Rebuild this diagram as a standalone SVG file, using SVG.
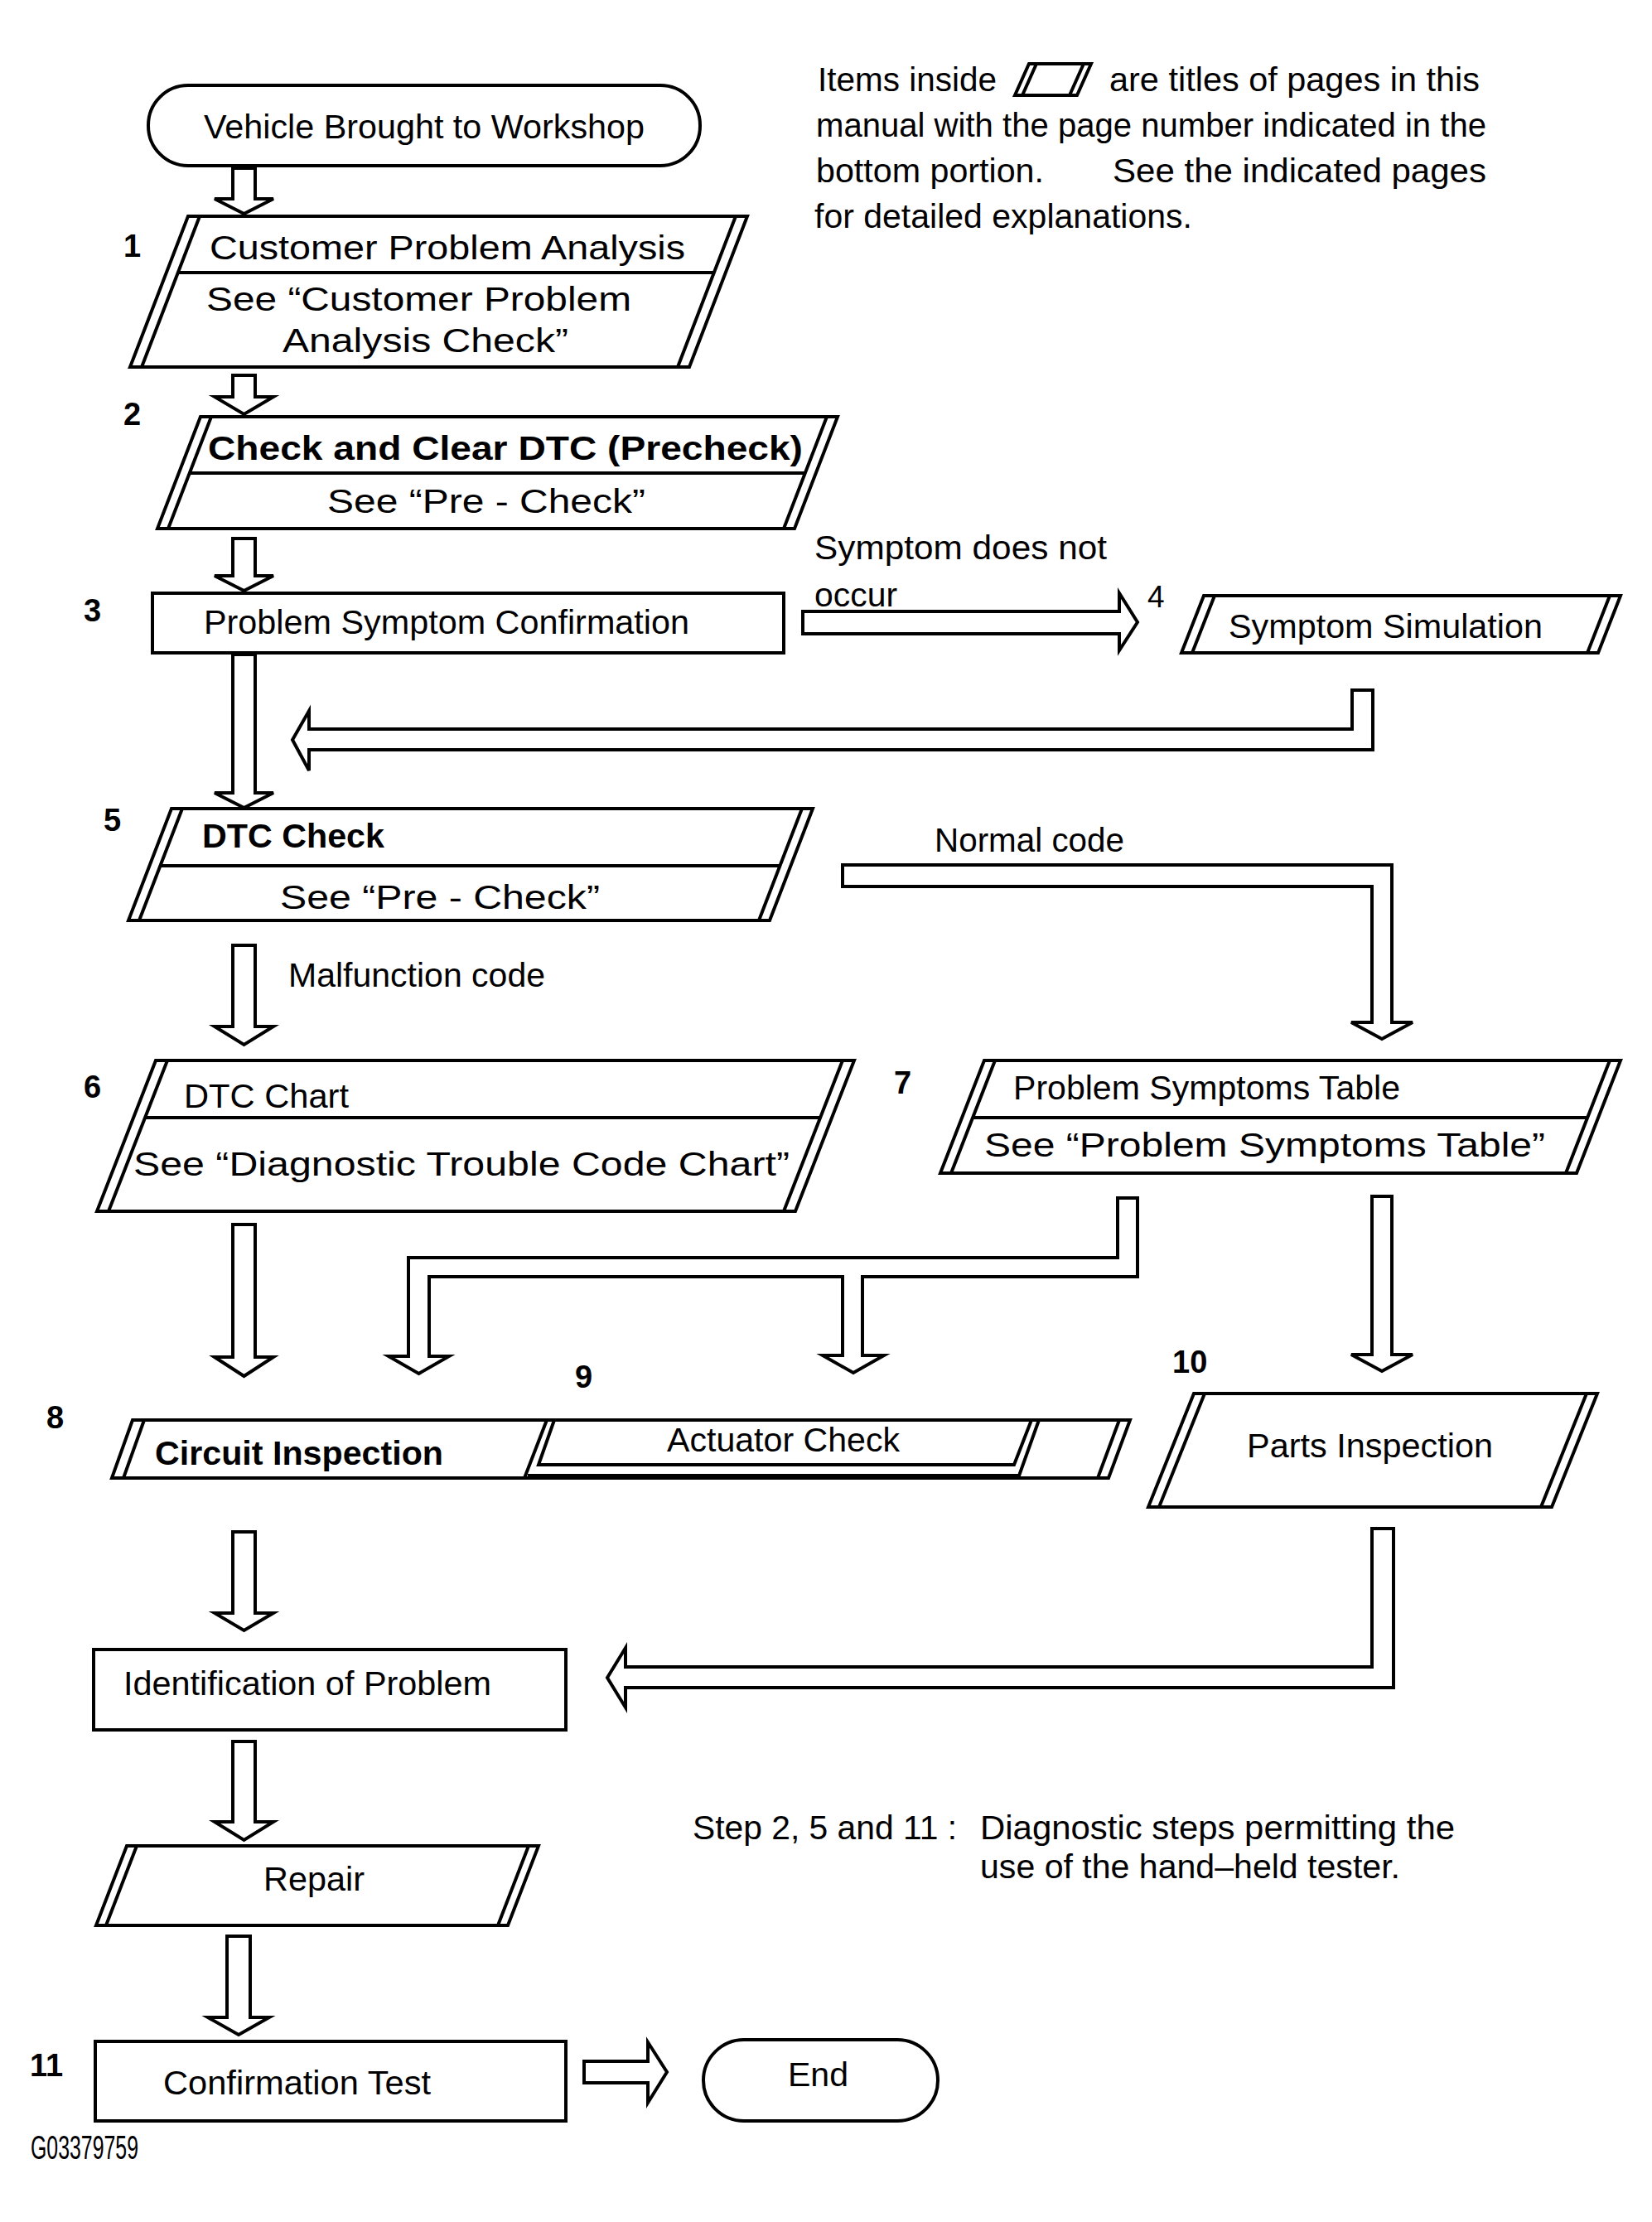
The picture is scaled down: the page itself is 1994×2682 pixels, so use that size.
<svg xmlns="http://www.w3.org/2000/svg" width="1994" height="2682" viewBox="0 0 1994 2682">
<style>
.t{font-family:"Liberation Sans",Arial,Helvetica,sans-serif;font-size:41px;fill:#000}
.b{font-weight:bold}
.n{font-family:"Liberation Sans",Arial,Helvetica,sans-serif;font-size:38px;font-weight:bold;fill:#000}
.nr{font-family:"Liberation Sans",Arial,Helvetica,sans-serif;font-size:37px;fill:#000}
.s{fill:#fff;stroke:#000;stroke-width:4;stroke-linejoin:miter}
.l{fill:none;stroke:#000;stroke-width:4}
.a{fill:#fff;stroke:#000;stroke-width:4;stroke-linejoin:miter}
</style>
<rect x="0" y="0" width="1994" height="2682" fill="#fff"/>

<g id="legend">
<text class="t" x="987" y="110" textLength="216" lengthAdjust="spacingAndGlyphs">Items inside</text>
<polygon class="s" points="1242,77 1317,77 1300,115 1225,115"/>
<line class="l" x1="1251" y1="77" x2="1234" y2="115" stroke-width="3"/>
<line class="l" x1="1308" y1="77" x2="1291" y2="115" stroke-width="3"/>
<text class="t" x="1339" y="110" textLength="447" lengthAdjust="spacingAndGlyphs">are titles of pages in this</text>
<text class="t" x="985" y="165" textLength="809" lengthAdjust="spacingAndGlyphs">manual with the page number indicated in the</text>
<text class="t" x="985" y="220" textLength="275" lengthAdjust="spacingAndGlyphs">bottom portion.</text>
<text class="t" x="1343" y="220" textLength="451" lengthAdjust="spacingAndGlyphs">See the indicated pages</text>
<text class="t" x="983" y="275" textLength="456" lengthAdjust="spacingAndGlyphs">for detailed explanations.</text>
</g>

<g id="connectors">
<path class="a" d="M281,203 H308 V240 H330 L294.5,258 L259,240 H281 Z"/>
<path class="a" d="M281,453 H308 V479 H330 L294.5,500 L259,479 H281 Z"/>
<path class="a" d="M281,650 H308 V695 H330 L294.5,713 L259,695 H281 Z"/>
<path class="a" d="M281,790 H308 V957 H330 L294.5,975 L259,957 H281 Z"/>
<path class="a" d="M281,1141 H308 V1239 H330 L294.5,1261 L259,1239 H281 Z"/>
<path class="a" d="M281,1478 H308 V1638 H330 L294.5,1661 L259,1638 H281 Z"/>
<path class="a" d="M281,1849 H308 V1947 H330 L294.5,1968 L259,1947 H281 Z"/>
<path class="a" d="M281,2102 H308 V2199 H330 L294.5,2221 L259,2199 H281 Z"/>
<path class="a" d="M274,2337 H302 V2435 H325 L288,2456 L251,2435 H274 Z"/>
<path class="a" d="M969,738 H1351 V716 L1373,751 L1351,785 V765 H969 Z"/>
<path class="a" d="M353,893 L373,858 V880 H1632 V833 H1657 V905 H373 V930 Z"/>
<path class="a" d="M1017,1044 H1680 V1234 H1705 L1668,1254 L1631,1234 H1656 V1070 H1017 Z"/>
<path class="a" d="M1656,1444 H1680 V1635 H1705 L1668,1655 L1631,1635 H1656 Z"/>
<path class="a" d="M1349,1446 H1373 V1541 H1041 V1636 H1067 L1030,1657 L993,1636 H1017 V1541 H518 V1637 H542 L505.5,1658 L469,1637 H493 V1518 H1349 Z"/>
<path class="a" d="M733,2025 L755,1989 V2012 H1656 V1845 H1682 V2037 H755 V2061 Z"/>
<path class="a" d="M705,2488 H782 V2465 L805,2501 L782,2538 V2514 H705 Z"/>
<text class="t" x="983" y="675" textLength="353" lengthAdjust="spacingAndGlyphs">Symptom does not</text>
<text class="t" x="983" y="732" textLength="100" lengthAdjust="spacingAndGlyphs">occur</text>
<text class="t" x="1128" y="1028" textLength="229" lengthAdjust="spacingAndGlyphs">Normal code</text>
<text class="t" x="348" y="1191" textLength="310" lengthAdjust="spacingAndGlyphs">Malfunction code</text>
</g>

<g id="start">
<rect class="s" x="179" y="103" width="666" height="97" rx="48" ry="48"/>
<text class="t" x="246" y="167" textLength="532" lengthAdjust="spacingAndGlyphs">Vehicle Brought to Workshop</text>
</g>

<g id="step1">
<text class="n" x="149" y="310">1</text>
<polygon class="s" points="227,261 902,261 832,443 157,443"/>
<line class="l" x1="241" y1="261" x2="171" y2="443"/>
<line class="l" x1="888" y1="261" x2="818" y2="443"/>
<line class="l" x1="215" y1="329" x2="862" y2="329"/>
<text class="t" x="253" y="313" font-size="46" textLength="574" lengthAdjust="spacingAndGlyphs">Customer Problem Analysis</text>
<text class="t" x="249" y="375" font-size="46" textLength="513" lengthAdjust="spacingAndGlyphs">See “Customer Problem</text>
<text class="t" x="341" y="425" font-size="46" textLength="345" lengthAdjust="spacingAndGlyphs">Analysis Check”</text>
</g>

<g id="step2">
<text class="n" x="149" y="513">2</text>
<polygon class="s" points="242,503 1011,503 959,638 190,638"/>
<line class="l" x1="255" y1="503" x2="203" y2="638"/>
<line class="l" x1="998" y1="503" x2="946" y2="638"/>
<line class="l" x1="229" y1="571" x2="972" y2="571"/>
<text class="t b" x="251" y="555" font-size="46" textLength="718" lengthAdjust="spacingAndGlyphs">Check and Clear DTC (Precheck)</text>
<text class="t" x="395" y="619" font-size="45" textLength="384" lengthAdjust="spacingAndGlyphs">See “Pre - Check”</text>
</g>

<g id="step3">
<text class="n" x="101" y="750">3</text>
<rect class="s" x="184" y="716" width="762" height="72"/>
<text class="t" x="246" y="765" textLength="586" lengthAdjust="spacingAndGlyphs">Problem Symptom Confirmation</text>
</g>

<g id="step4">
<text class="nr" x="1385" y="733">4</text>
<polygon class="s" points="1453,719 1956,719 1929,788 1426,788"/>
<line class="l" x1="1466" y1="719" x2="1439" y2="788"/>
<line class="l" x1="1943" y1="719" x2="1916" y2="788"/>
<text class="t" x="1483" y="770" textLength="379" lengthAdjust="spacingAndGlyphs">Symptom Simulation</text>
</g>

<g id="step5">
<text class="n" x="125" y="1003">5</text>
<polygon class="s" points="207,976 981,976 929,1111 155,1111"/>
<line class="l" x1="220" y1="976" x2="168" y2="1111"/>
<line class="l" x1="968" y1="976" x2="916" y2="1111"/>
<line class="l" x1="193" y1="1045" x2="941" y2="1045"/>
<text class="t b" x="244" y="1023" textLength="220" lengthAdjust="spacingAndGlyphs">DTC Check</text>
<text class="t" x="338" y="1097" font-size="45" textLength="386" lengthAdjust="spacingAndGlyphs">See “Pre - Check”</text>
</g>

<g id="step6">
<text class="n" x="101" y="1325">6</text>
<polygon class="s" points="188,1280 1031,1280 960,1462 117,1462"/>
<line class="l" x1="202" y1="1280" x2="131" y2="1462"/>
<line class="l" x1="1017" y1="1280" x2="946" y2="1462"/>
<line class="l" x1="175" y1="1349" x2="990" y2="1349"/>
<text class="t" x="222" y="1337" textLength="199" lengthAdjust="spacingAndGlyphs">DTC Chart</text>
<text class="t" x="161" y="1419" font-size="46" textLength="792" lengthAdjust="spacingAndGlyphs">See “Diagnostic Trouble Code Chart”</text>
</g>

<g id="step7">
<text class="n" x="1079" y="1320">7</text>
<polygon class="s" points="1188,1280 1956,1280 1903,1416 1135,1416"/>
<line class="l" x1="1201" y1="1280" x2="1148" y2="1416"/>
<line class="l" x1="1943" y1="1280" x2="1890" y2="1416"/>
<line class="l" x1="1174" y1="1349" x2="1916" y2="1349"/>
<text class="t" x="1223" y="1327" textLength="467" lengthAdjust="spacingAndGlyphs">Problem Symptoms Table</text>
<text class="t" x="1188" y="1396" font-size="46" textLength="677" lengthAdjust="spacingAndGlyphs">See “Problem Symptoms Table”</text>
</g>

<g id="step8-9">
<text class="n" x="56" y="1724">8</text>
<text class="n" x="694" y="1675">9</text>
<polygon class="s" points="160,1714 1364,1714 1338,1784 135,1784"/>
<line class="l" x1="174" y1="1714" x2="149" y2="1784"/>
<line class="l" x1="1351" y1="1714" x2="1325" y2="1784"/>
<line class="l" x1="660" y1="1714" x2="633" y2="1784"/>
<polygon class="s" points="669,1714 1245,1714 1224,1768 650,1768"/>
<line class="l" x1="1254" y1="1714" x2="1229" y2="1784"/>
<line class="l" x1="637" y1="1781" x2="1231" y2="1781" stroke-width="8"/>
<text class="t b" x="187" y="1768" textLength="348" lengthAdjust="spacingAndGlyphs">Circuit Inspection</text>
<text class="t" x="805" y="1752" textLength="281" lengthAdjust="spacingAndGlyphs">Actuator Check</text>
</g>

<g id="step10">
<text class="n" x="1415" y="1657">10</text>
<polygon class="s" points="1441,1682 1928,1682 1873,1819 1386,1819"/>
<line class="l" x1="1454" y1="1682" x2="1399" y2="1819"/>
<line class="l" x1="1915" y1="1682" x2="1860" y2="1819"/>
<text class="t" x="1505" y="1759" textLength="297" lengthAdjust="spacingAndGlyphs">Parts Inspection</text>
</g>

<g id="identification">
<rect class="s" x="113" y="1991" width="570" height="97"/>
<text class="t" x="149" y="2046" textLength="444" lengthAdjust="spacingAndGlyphs">Identification of Problem</text>
</g>

<g id="repair">
<polygon class="s" points="153,2228 650,2228 613,2324 116,2324"/>
<line class="l" x1="165" y1="2228" x2="128" y2="2324"/>
<line class="l" x1="638" y1="2228" x2="601" y2="2324"/>
<text class="t" x="318" y="2282" textLength="122" lengthAdjust="spacingAndGlyphs">Repair</text>
</g>

<g id="step11">
<text class="n" x="36" y="2506">11</text>
<rect class="s" x="115" y="2464" width="568" height="96"/>
<text class="t" x="197" y="2528" textLength="323" lengthAdjust="spacingAndGlyphs">Confirmation Test</text>
</g>

<g id="end">
<rect class="s" x="849" y="2462" width="283" height="98" rx="49" ry="49"/>
<text class="t" x="951" y="2518" textLength="73" lengthAdjust="spacingAndGlyphs">End</text>
</g>

<g id="notes">
<text class="t" x="836" y="2220" textLength="319" lengthAdjust="spacingAndGlyphs">Step 2, 5 and 11 :</text>
<text class="t" x="1183" y="2220" textLength="573" lengthAdjust="spacingAndGlyphs">Diagnostic steps permitting the</text>
<text class="t" x="1183" y="2267" textLength="507" lengthAdjust="spacingAndGlyphs">use of the hand–held tester.</text>
<text class="t" x="37" y="2606" font-size="24" textLength="130" lengthAdjust="spacingAndGlyphs">G03379759</text>
</g>
</svg>
